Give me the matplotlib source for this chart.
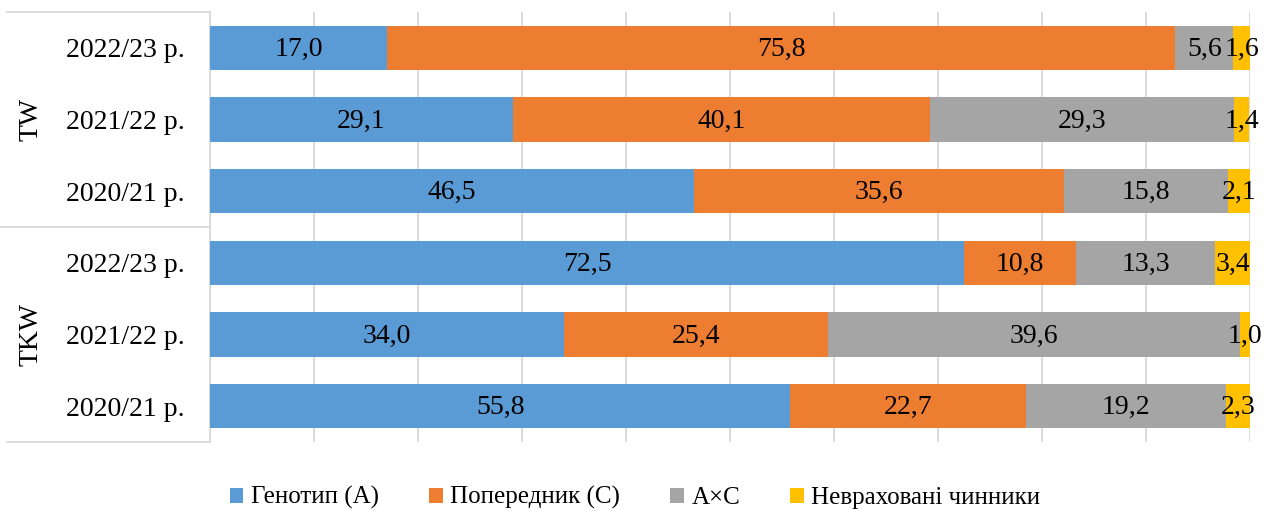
import matplotlib
matplotlib.use("Agg")
import matplotlib.pyplot as plt
import numpy as np
from matplotlib.transforms import blended_transform_factory

plt.rcParams['font.family'] = ['Liberation Serif', 'DejaVu Serif']

# rows top to bottom
years = ["2022/23 р.", "2021/22 р.", "2020/21 р.", "2022/23 р.", "2021/22 р.", "2020/21 р."]
groups = ["TW", "TKW"]
genotype = [17.0, 29.1, 46.5, 72.5, 34.0, 55.8]
predecessor = [75.8, 40.1, 35.6, 10.8, 25.4, 22.7]
interaction = [5.6, 29.3, 15.8, 13.3, 39.6, 19.2]
unaccounted = [1.6, 1.4, 2.1, 3.4, 1.0, 2.3]

series = [
    ("Генотип (А)", genotype, "#5B9BD5"),
    ("Попередник (С)", predecessor, "#ED7D31"),
    ("А×С", interaction, "#A5A5A5"),
    ("Невраховані чинники", unaccounted, "#FFC000"),
]

fig = plt.figure(figsize=(12.7, 5.09), dpi=100)
ax = fig.add_axes([0.1654, 0.1316, 0.8189, 0.8448])

y = np.arange(len(years))
left = np.zeros(len(years))
for name, vals, col in series:
    vals = np.array(vals)
    ax.barh(y, vals, left=left, height=0.62, color=col, label=name, zorder=3)
    for yi, l, v in zip(y, left, vals):
        ax.text(l + v / 2, yi + 0.02, f"{v:.1f}".replace(".", ","), ha="center", va="center",
                fontsize=20, color="black", zorder=4)
    left += vals

ax.set_xlim(0, 100)
ax.set_ylim(len(years) - 0.5, -0.5)
ax.set_xticks(np.arange(10, 101, 10))
ax.set_xticklabels([])
ax.tick_params(axis="x", length=0)
ax.grid(axis="x", color="#d9d9d9", lw=1.3, zorder=0)
ax.set_yticks(y)
ax.set_yticklabels(years, fontsize=20)
ax.tick_params(axis="y", length=0, pad=18)
for s in ["top", "right", "bottom"]:
    ax.spines[s].set_visible(False)
ax.spines["left"].set_color("#d9d9d9")
ax.spines["left"].set_linewidth(1.3)

# group labels and separators
tr = blended_transform_factory(ax.transAxes, ax.transData)
for i, g in enumerate(groups):
    ax.text(-0.172, 3 * i + 1, g, transform=tr, rotation=90, ha="center", va="center",
            fontsize=20, clip_on=False)
for yy, x0 in [(-0.5, -0.195), (2.5, -0.205), (5.5, -0.195)]:
    ax.plot([x0, 0], [yy, yy], transform=tr, color="#d9d9d9", lw=1.3, clip_on=False)

fig.legend(loc="lower center", bbox_to_anchor=(0.5, -0.045), ncol=4, frameon=False,
           fontsize=18, handlelength=0.55, handleheight=0.55, handletextpad=0.3,
           columnspacing=2.0)

fig.savefig("out.png", dpi=100)
